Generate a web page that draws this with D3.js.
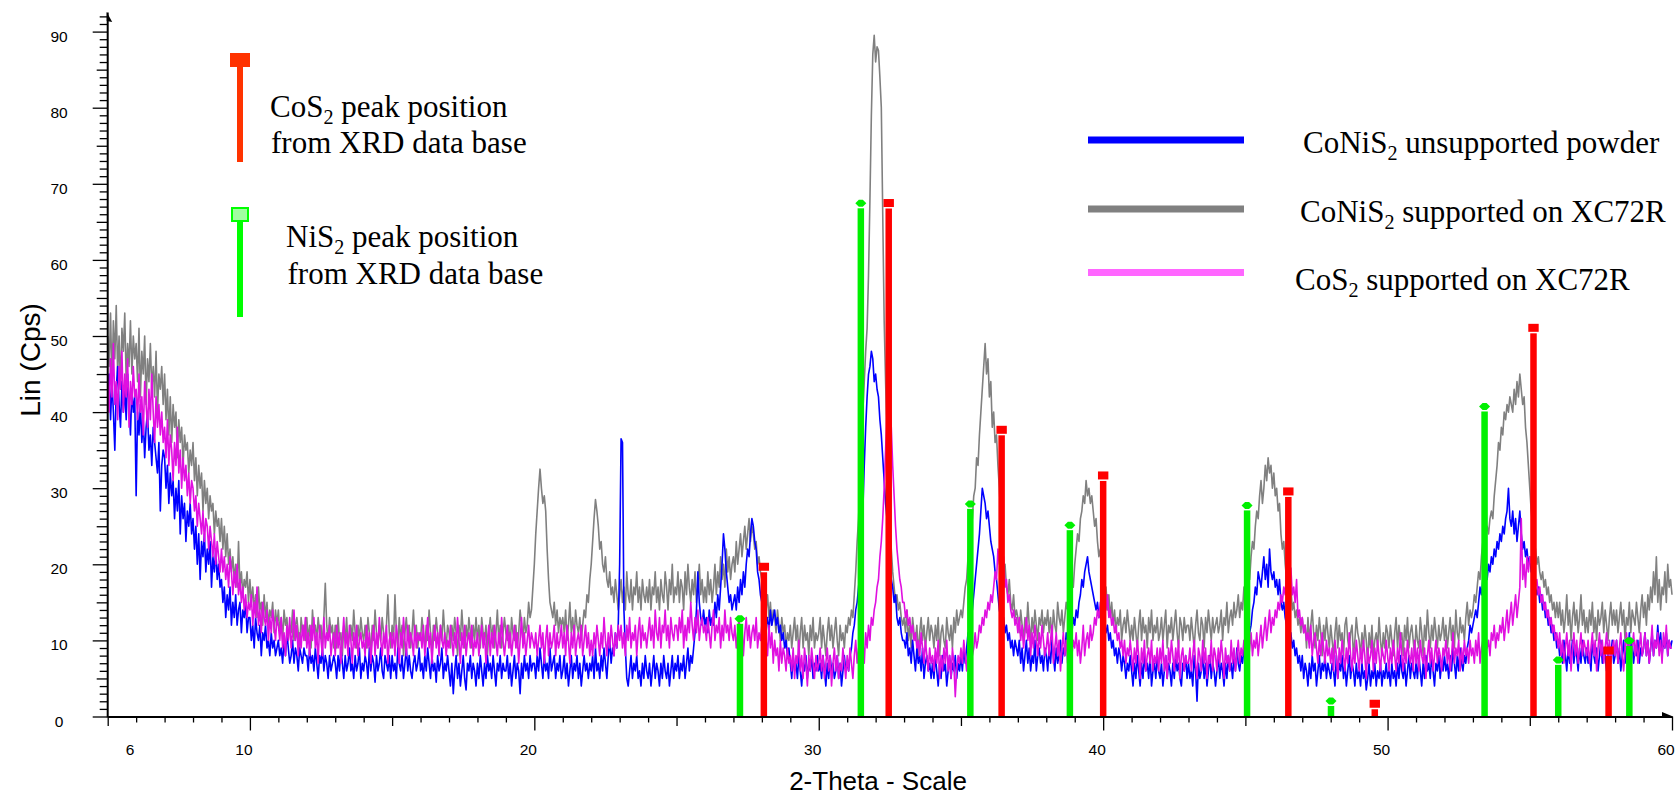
<!DOCTYPE html>
<html>
<head>
<meta charset="utf-8">
<script src="https://cdn.jsdelivr.net/npm/d3@7"></script>
<style>
  html, body { margin: 0; padding: 0; background: #fff; }
  svg { display: block; }
</style>
</head>
<body>
<svg id="chart" width="1680" height="799"></svg>
<script>
// Scan grid: 2-theta from 5.00 to 60.00 deg in 0.05 deg steps (one row per degree)
const twoThetaStart = 5;
const twoThetaStep = 0.05;

// CoNiS2 unsupported powder, Lin (Cps)
const coNiS2Powder = [
  42,45,39,44,40,35,43,46,41,38,44,40,43,39,45,41,37,43,40,42,
  29,40,37,41,36,39,34,38,40,35,37,33,38,36,34,32,36,27,33,35,
  34,30,33,28,32,29,31,26,30,27,31,24,29,26,28,23,27,25,28,24,
  26,22,25,20,24,18,23,21,24,19,22,20,23,17,21,19,22,18,20,17,
  18,15,17,13,16,14,17,12,15,13,16,12,14,15,11,14,13,15,11,13,
  13,10,12,9,13,11,10,12,8,11,10,12,9,10,8,11,9,10,8,9,
  10,8,9,7,10,8,11,9,7,8,10,7,9,8,6,9,8,7,9,8,
  8,6,9,7,8,6,9,7,5,8,7,9,6,8,7,5,8,6,7,8,
  7,5,8,6,9,7,5,8,6,7,9,6,7,5,8,6,7,9,5,7,
  6,8,7,5,9,6,8,7,4.5,8,6,7,9,6,5,8,7,6,8,5,
  8,6,7,5,9,7,6,8,5,7,9,6,8,6,5,7,8,6,7,9,
  6,7,5,8,6,9,7,5,8,6,7,4.5,8,6,7,9,5,7,6,8,
  6,4,7,3,6,8,5,7,4,6,8,5,3.5,7,6,8,5,7,6,4,
  7,5,8,6,4,7,5,8,6,7,5,8,6,4,7,6,8,5,7,6,
  6,8,5,7,4,6,8,5,7,6,3,7,5,8,6,7,5,8,6,7,
  7,5,8,6,9,7,5,8,6,7,5,9,6,7,8,5,7,6,8,5,
  6,8,5,7,4,6,8,5,7,6,8,5,7,4,6,8,6,7,5,7,
  6,8,5,9,6,7,5,8,6,9,7,5,8,10,7,9,8,11,9,12,
  20,36.5,36,14,9,5,4,6,8,5,7,6,8,5,6,4,7,5,8,6,
  5,7,4,6,8,5,7,6,4,7,5,8,6,5,7,4,6,8,5,7,
  6,8,5,7,6,8,5,7,9,6,8,7,9,11,14,19,15,13,12,14,
  12,13,11,14,12,13,12,15,13,16,14,17,20,24,22,19,17,15,16,14,
  15,16,14,17,15,18,16,19,17,20,22,21,24,26,25,23,22,19,18,16,
  15,13,14,12,13,11,14,12,13,14,12,13,11,12,10,11,9,10,8,9,
  7,5,8,6,7,5,8,6,4,7,6,8,5,7,6,8,5,7,6,8,
  6,7,5,8,6,4,7,5,8,6,7,5,6,8,5,7,4,6,8,6,
  7,6,8,9,11,12,14,15,17,19,22,27,33,38,42,45,46,48,47,44,
  45,43,42,39,37,34,31,28,26,23,21,18,17,15,16,13,12,13,11,10,
  10,9,11,8,9,7,10,8,6,9,7,8,6,9,5,7,8,6,7,5,
  7,5,8,6,4,7,5,8,6,7,4,6,8,5,7,6,8,5,7,6,
  8,6,9,7,9,11,10,13,14,16,18,20,22,24,27,30,29,28,26,27,
  25,23,22,21,19,18,16,14,13,12,13,11,12,10,11,9,10,8,10,9,
  8,10,7,9,6,8,10,7,9,6,8,7,10,6,8,9,7,8,6,9,
  8,6,9,7,10,8,6,9,7,8,10,7,9,8,11,9,10,12,11,13,
  12,14,13,15,16,18,17,19,20,21,19,18,17,16,15,14,15,13,14,12,
  13,12,11,12,10,11,9,10,8,9,7,9,8,6,8,7,5,7,6,8,
  6,4,7,5,8,6,4,7,5,8,6,7,5,8,4,6,7,5,8,6,
  5,7,4,6,8,5,7,6,4,7,5,8,6,7,5,4,7,6,8,5,
  7,5,6,4,8,6,2,7,5,6,8,5,7,4,6,8,5,7,6,4,
  6,8,5,7,6,4,7,5,8,6,7,5,8,6,9,7,6,8,7,9,
  9,8,10,11,12,14,15,17,16,19,18,17,19,21,18,20,17,22,19,18,
  19,17,18,16,18,15,14,15,13,12,11,10,11,9,10,8,9,7,8,6,
  8,5,7,6,4,7,5,8,6,7,4,6,8,5,7,6,8,5,7,6,
  5,7,6,4,8,5,7,6,8,5,7,4,6,8,5,7,6,4,7,5,
  6,4,7,5,6,3.5,5,7,4,6,5,7,4,6,5,7,4,6,5,7,
  5,6,4,7,5,6,4,7,5,8,6,5,7,4,6,8,5,7,6,5,
  7,5,8,6,4,7,5,8,6,7,5,8,6,4,7,6,8,5,7,6,
  8,6,7,5,8,6,9,7,5,8,6,9,7,6,8,7,9,10,12,11,
  12,13,14,13,15,17,16,18,17,19,18,20,19,21,20,22,21,23,22,24,
  23,25,24,26,27,30,26,25,27,24,26,23,25,27,24,22,23,21,22,20,
  21,19,20,18,17,16,17,15,16,14,15,13,14,12,13,11,12,10,11,9,
  10,8,9,7,10,8,6,9,7,8,10,7,9,8,6,9,7,10,8,7,
  9,7,8,6,10,8,7,9,6,8,10,7,9,8,6,9,7,8,10,7,
  8,10,7,9,6,8,10,7,9,8,11,8,10,7,9,8,10,7,9,8,
  9,11,8,10,7,9,11,8,10,9,12,9,11,8,10,9,11,8,10,9,
  10
];

// CoNiS2 supported on XC72R, Lin (Cps)
const coNiS2OnCarbon = [
  50,46,53,44,52,47,54,45,50,43,51,48,53,44,49,46,52,45,50,47,
  49,44,51,42,48,45,50,41,47,44,49,43,46,42,48,40,45,43,46,41,
  45,39,43,37,42,36,41,38,40,34,39,36,38,33,37,35,36,32,35,33,
  36,31,34,29,33,30,32,27,31,28,30,26,29,27,28,24,27,25,26,23,
  26,22,25,21,24,20,22,19,21,18,20,17,23,17,19,16,18,17,19,15,
  18,15,17,14,16,13,17,14,15,12,16,13,15,12,14,13,15,11,14,12,
  14,11,13,10,14,12,13,10,12,11,14,10,12,13,11,9,13,11,12,10,
  13,10,12,9,14,11,12,10,13,11,12,9,13,17.5,12,10,13,11,12,9,
  12,9,13,10,11,8,12,10,13,9,11,12,10,14,11,9,12,10,13,11,
  10,12,9,13,11,8,12,10,14,11,9,12,10,13,11,9,12,16,11,9,
  12,10,16,11,9,13,10,12,8,11,13,10,12,9,11,14,10,12,9,11,
  10,13,11,9,12,10,14,11,8,12,10,13,11,9,12,10,14,11,9,12,
  11,9,12,10,13,11,8,12,10,14,11,9,12,10,13,11,9,12,10,13,
  10,12,9,13,11,10,12,8,11,13,10,12,9,11,14,10,12,9,11,13,
  11,10,12,9,13,11,10,12,9,11,14,12,10,13,11,12,15,13,14,17,
  20,24,27,30,32.5,30,28,29,27,22,18,15,14,13,15,12,14,11,13,12,
  13,11,14,10,12,15,11,13,10,14,12,11,13,10,12,14,13,16,15,18,
  20,23,26,28.5,27,25,22,23,20,19,21,18,17,19,16,17,15,18,16,14,
  16,18,15,17,14,19,16,15,18,14,17,16,19,15,17,14,18,16,15,17,
  15,18,14,17,16,19,15,17,14,18,16,15,19,17,14,18,16,20,15,17,
  16,19,15,18,17,14,19,16,20,17,15,18,16,19,15,17,20,16,18,15,
  17,15,19,16,18,15,17,20,16,19,17,21,18,20,17,22,19,21,18,20,
  21,19,23,20,22,24,21,23,25,22,24,26,23,25,24,22,23,20,21,19,
  18,16,17,14,16,13,15,12,14,13,11,14,12,10,13,11,12,9,11,10,
  12,9,11,13,10,12,8,11,13,9,12,10,11,8,12,10,13,9,11,10,
  11,13,9,12,10,8,11,13,10,12,9,11,13,10,8,12,10,11,9,12,
  11,13,12,14,13,16,19,23,26,31,35,40,44,48,51,58,68,79,87,89.5,
  86,88,87.5,84,80,66,52,44,37,28,25,22,19,17,15,16,14,15,13,12,
  13,11,14,10,12,9,13,11,10,12,8,11,13,10,12,9,11,13,10,12,
  11,9,12,10,13,8,11,12,10,9,13,11,10,12,9,13,11,14,12,13,
  14,13,15,17,18,21,24,27,26,29,30,34,33,37,40,43,46,49,45,47,
  42,44,38,40,36,37,33,30,26,22,19,20,17,16,18,15,14,16,13,14,
  13,11,14,12,10,13,11,15,12,10,13,11,14,12,10,13,12,14,11,13,
  12,14,11,13,10,14,12,11,15,13,12,14,11,13,15,14,16,15,18,17,
  20,22,24,23,26,27,29,28,31,29,30,28,29,27,25,26,23,21,22,19,
  18,16,17,14,16,13,15,12,14,11,13,12,14,10,12,13,11,14,12,10,
  12,10,13,11,9,12,14,10,13,11,12,9,13,11,14,10,12,11,13,10,
  11,13,10,12,14,9,12,11,13,10,12,14,11,9,13,12,10,13,11,12,
  12,10,13,11,9,12,14,11,10,13,12,9,13,11,14,12,10,13,11,12,
  13,11,12,14,10,13,12,15,11,13,14,12,15,13,14,16,13,15,14,17,
  15,17,19,18,21,23,22,25,27,26,29,31,28,30,33,31,34,32,33,30,
  32,29,30,27,28,24,22,23,20,18,19,16,17,14,15,13,14,12,13,11,
  13,11,12,9,13,10,12,14,11,9,12,10,13,11,8,12,10,13,11,9,
  12,10,8,11,13,9,12,10,11,8,12,13,10,9,11,12,8,10,13,11,
  10,8,11,9,12,10,7,11,9,12,8,10,11,9,13,10,8,11,9,12,
  11,9,12,10,8,11,13,9,12,10,11,8,12,10,13,9,11,12,10,8,
  12,10,9,13,11,8,12,10,14,11,9,12,10,13,11,9,12,10,11,13,
  10,12,9,11,13,10,12,9,14,11,10,13,11,12,10,13,15,12,14,13,
  14,16,15,17,19,18,21,23,22,24,25,24,26,27,26,29,31,33,36,35,
  38,37,40,39,41,40,42,41,40,43,41,44,42,45,43,41,42,38,36,33,
  30,27,25,23,22,20,21,19,18,19,17,18,16,17,15,16,14,15,13,15,
  13,15,12,14,11,13,16,12,14,10,13,15,12,14,11,13,16,12,14,11,
  13,11,14,12,15,11,13,10,14,12,13,15,11,14,12,10,13,15,12,14,
  12,14,11,13,15,12,14,10,13,12,15,11,14,13,12,15,13,11,14,16,
  13,15,12,16,14,17,15,19,16,21,15,18,14,17,16,19,15,20,17,18,
  16
];

// CoS2 supported on XC72R, Lin (Cps)
const coS2OnCarbon = [
  45,40,47,42,49,41,44,39,46,43,48,40,45,42,47,38,44,41,46,42,
  43,39,45,40,42,37,44,41,38,43,39,45,40,36,42,38,41,37,40,36,
  38,34,39,33,37,35,31,36,33,38,32,35,30,34,31,33,29,32,28,31,
  30,27,29,25,28,26,24,27,23,26,25,22,25,23,21,24,20,23,21,19,
  22,19,21,18,20,17,21,19,16,19,17,20,16,18,15,17,14,16,13,15,
  14,16,12,15,13,17,12,14,11,15,13,12,14,10,13,11,14,12,10,13,
  12,10,13,9,11,8,12,10,13,9,11,14,10,12,8,11,9,12,10,13,
  9,11,8,12,10,13,9,11,7,12,10,8,13,9,11,10,12,8,10,11,
  8,12,9,11,7,10,13,9,11,8,12,10,7,11,9,12,8,10,11,9,
  10,8,12,9,11,7,10,12,8,11,9,13,10,8,11,9,12,7,10,11,
  9,11,8,12,10,7,11,9,13,10,8,12,9,11,10,8,12,9,11,10,
  11,9,12,8,10,13,9,11,7,10,12,9,11,8,12,10,9,11,8,10,
  9,12,10,8,11,9,13,10,7,11,9,12,8,10,11,9,12,8,10,9,
  11,8,10,12,9,11,7,10,12,8,11,9,12,10,8,11,9,13,10,8,
  10,12,9,11,8,10,12,9,11,7,10,13,9,11,8,10,12,9,11,10,
  9,11,8,10,12,9,11,7,10,12,8,11,9,10,12,8,11,9,10,12,
  9,11,8,12,10,7,11,9,12,8,10,11,9,12,8,10,12,9,11,8,
  10,8,11,9,12,10,8,11,9,13,10,8,11,9,12,10,8,11,9,12,
  10,12,9,11,8,12,10,13,9,11,10,12,8,11,13,9,12,10,11,9,
  11,13,10,12,9,14,11,10,13,9,12,11,14,10,12,9,13,11,10,12,
  12,10,13,11,14,9,12,10,13,11,15,12,10,13,11,14,10,12,13,11,
  12,10,13,11,9,12,14,10,12,11,13,9,12,10,14,11,12,10,13,11,
  10,12,9,11,13,10,12,8,11,13,10,12,9,11,12,10,13,9,11,10,
  12,9,11,10,8,12,9,11,7,10,8,9,6,10,7,9,8,6,9,7,
  8,6,9,5,8,7,10,6,8,5,9,7,4,8,6,9,7,5,8,6,
  7,9,6,8,5,7,9,6,8,4,7,9,6,8,5,7,6,9,7,5,
  8,6,9,7,5,8,10,7,9,6,8,10,7,11,9,12,10,13,12,14,
  15,17,18,21,23,26,30,35,40,43,41,38,33,29,25,22,20,18,17,15,
  15,13,14,12,13,11,12,10,11,9,10,8,11,9,7,10,8,6,9,7,
  8,6,9,7,10,5,8,6,9,7,10,6,8,5,9,7,2.6,6,8,7,
  9,7,10,8,6,9,7,10,8,9,11,9,10,12,11,13,12,14,13,15,
  14,16,15,17,19,18,22,20,24,19,21,17,18,15,16,14,13,14,12,13,
  11,13,10,12,9,11,13,10,12,8,11,9,12,10,8,11,9,12,10,8,
  9,11,8,10,12,7,9,11,8,10,6,9,11,8,10,7,9,12,8,10,
  9,11,8,10,7,9,12,8,10,11,9,12,10,11,13,12,14,13,15,14,
  16,15,14,16,13,14,12,13,11,12,10,11,9,10,8,10,7,9,8,10,
  8,6,9,7,10,8,5,9,7,10,6,8,9,7,10,6,8,7,9,6,
  9,7,10,6,8,5,9,7,10,8,6,9,7,10,5,8,9,6,8,7,
  7,9,6,8,10,7,5,9,8,6,10,7,9,5,8,7,10,6,9,8,
  6,9,7,10,8,5,9,7,8,6,10,7,9,6,8,10,7,9,8,10,
  8,10,7,9,11,8,10,9,11,8,10,12,9,11,13,10,12,14,11,13,
  12,14,13,15,14,16,15,17,16,19,18,17,19.5,16,17,15,18,13,14,12,
  13,11,12,10,11,9,12,8,10,11,9,7,10,8,11,9,7,10,8,9,
  7,9,6,10,8,5,9,7,10,8,6,9,7,11,8,6,9,7,10,8,
  6,9,7,10,8,5,9,7,8,10,6,9,7,10,8,6,9,8,7,10,
  8,6,9,7,10,8,6,9,7,11,8,6,9,7,10,8,7,9,6,10,
  7,9,6,10,8,7,9,5,8,10,7,9,6,8,10,7,9,8,6,9,
  8,10,7,9,6,8,11,7,9,8,10,6,9,7,10,8,9,7,10,8,
  9,7,10,8,11,7,9,10,8,11,9,10,8,11,10,12,9,11,10,12,
  11,13,10,12,14,11,13,15,12,14,16,13,15,17,26,18,20,17,21,19,
  21,20,18,19,17,18,16,17,15,16,14,15,13,14,12,13,11,12,10,11,
  9,11,8,10,7,9,11,8,10,6,9,11,8,10,7,9,11,8,10,9,
  8,10,7,9,11,8,10,6,9,11,8,10,7,9,11,8,10,7,9,10,
  8,10,7,9,11,8,6,9,11,8,10,7,9,11,8,10,7,9,11,8,
  9,11,8,10,7,9,12,8,10,9,11,8,10,7,11,9,12,8,10,9,
  9
];

// Reference stick patterns from the XRD database (position deg, intensity Cps)
const cos2RefPos = [28.07, 32.46, 36.43, 40.0, 46.51, 49.55, 55.13, 57.77];
const cos2RefInt = [20.2, 68.0, 38.2, 32.2, 30.1, 2.2, 51.6, 9.2];
const nis2RefPos = [27.23, 31.48, 35.33, 38.83, 45.06, 48.01, 53.41, 56.0, 58.5];
const nis2RefInt = [13.3, 67.9, 28.4, 25.6, 28.2, 2.5, 41.2, 7.9, 10.4];

const xTickLabels = [6, 10, 20, 30, 40, 50, 60];
const yTickLabels = [0, 10, 20, 30, 40, 50, 60, 70, 80, 90];

const svg = d3.select('#chart');
const x = d3.scaleLinear().domain([5, 60]).range([107.7, 1672]);
const y = d3.scaleLinear().domain([0, 90]).range([716.5, 31.6]);

const sansFont = '"Liberation Sans", Arial, sans-serif';
const serifFont = '"Liberation Serif", "Times New Roman", serif';

// ---- diffraction patterns (gray behind, blue, magenta on top)
const line = d3.line()
  .x((d, i) => x(twoThetaStart + i * twoThetaStep))
  .y(d => y(d));

const patterns = [
  { data: coNiS2OnCarbon, color: '#808080' },
  { data: coNiS2Powder, color: '#0000ff' },
  { data: coS2OnCarbon, color: '#e010e0' }
];
svg.append('g').selectAll('path')
  .data(patterns)
  .join('path')
  .attr('d', d => line(d.data))
  .attr('fill', 'none')
  .attr('stroke', d => d.color)
  .attr('stroke-width', 1.6)
  .attr('stroke-linejoin', 'round');

// ---- reference sticks
const barW = 6.5;
const sticks = svg.append('g');
const cosData = cos2RefPos.map((p, i) => ({ p, v: cos2RefInt[i] }));
const nisData = nis2RefPos.map((p, i) => ({ p, v: nis2RefInt[i] }));

sticks.selectAll('rect.cos-bar').data(cosData).join('rect')
  .attr('class', 'cos-bar')
  .attr('x', d => x(d.p) - barW / 2)
  .attr('y', d => y(d.v) + 9.5)
  .attr('width', barW)
  .attr('height', d => Math.max(0, y(0) - y(d.v) - 9.5))
  .attr('fill', '#ff0000');
sticks.selectAll('rect.cos-cap').data(cosData).join('rect')
  .attr('class', 'cos-cap')
  .attr('x', d => x(d.p) - 5.2)
  .attr('y', d => y(d.v))
  .attr('width', 10.4)
  .attr('height', 8)
  .attr('fill', '#ff0000');

sticks.selectAll('rect.nis-bar').data(nisData).join('rect')
  .attr('class', 'nis-bar')
  .attr('x', d => x(d.p) - barW / 2)
  .attr('y', d => y(d.v) + 8.5)
  .attr('width', barW)
  .attr('height', d => Math.max(0, y(0) - y(d.v) - 8.5))
  .attr('fill', '#00f000');
sticks.selectAll('path.nis-cap').data(nisData).join('path')
  .attr('class', 'nis-cap')
  .attr('d', d => {
    const cx = x(d.p), cy = y(d.v) + 3.5;
    return `M${cx - 5.5},${cy} L${cx - 2},${cy - 3.5} L${cx + 2},${cy - 3.5} L${cx + 5.5},${cy} L${cx + 2},${cy + 3.5} L${cx - 2},${cy + 3.5} Z`;
  })
  .attr('fill', '#00f000');

// ---- x axis
const x0 = x(5), yBase = y(0);
const xAxis = d3.axisBottom(x)
  .tickValues(d3.range(5, 61, 1))
  .tickSizeInner(6)
  .tickSizeOuter(0)
  .tickFormat('');
const gx = svg.append('g').attr('transform', `translate(0,${yBase})`).call(xAxis);
gx.select('.domain').attr('stroke', '#000').attr('stroke-width', 2);
gx.selectAll('.tick line')
  .attr('stroke', '#000')
  .attr('stroke-width', 1.3)
  .attr('y2', d => (d % 10 === 0 ? 14 : d % 5 === 0 ? 9.5 : 6));

svg.append('g').selectAll('text')
  .data(xTickLabels)
  .join('text')
  .attr('x', d => x(d) - 6)
  .attr('y', 751)
  .attr('text-anchor', 'middle')
  .attr('dominant-baseline', 'middle')
  .attr('font-family', sansFont)
  .attr('font-size', 15.5)
  .attr('fill', '#000')
  .text(d => d);

// arrow at the right end of the x axis
svg.append('path')
  .attr('d', `M${x(60) - 10},${yBase - 4.5} L${x(60) + 1},${yBase} L${x(60) - 10},${yBase + 1} Z`)
  .attr('fill', '#000');

svg.append('text')
  .attr('x', 878)
  .attr('y', 790)
  .attr('text-anchor', 'middle')
  .attr('font-family', sansFont)
  .attr('font-size', 26)
  .attr('fill', '#000')
  .text('2-Theta - Scale');

// ---- y axis
const yAxis = d3.axisLeft(y)
  .tickValues(d3.range(0, 93, 1))
  .tickSizeInner(8)
  .tickSizeOuter(0)
  .tickFormat('');
const gy = svg.append('g').attr('transform', `translate(${x0},0)`).call(yAxis);
gy.select('.domain').remove();
gy.selectAll('.tick line')
  .attr('stroke', '#000')
  .attr('stroke-width', 1.3)
  .attr('x2', d => (d % 10 === 0 ? -15 : d % 5 === 0 ? -11 : -8));

svg.append('line')
  .attr('x1', x0).attr('x2', x0)
  .attr('y1', yBase + 1).attr('y2', 12.5)
  .attr('stroke', '#000').attr('stroke-width', 2);
svg.append('path')
  .attr('d', `M${x0 - 1},12 L${x0 + 4.5},22 L${x0 - 1},21 Z`)
  .attr('fill', '#000');

svg.append('g').selectAll('text')
  .data(yTickLabels)
  .join('text')
  .attr('x', 59)
  .attr('y', d => y(d) + 6)
  .attr('text-anchor', 'middle')
  .attr('dominant-baseline', 'middle')
  .attr('font-family', sansFont)
  .attr('font-size', 15.5)
  .attr('fill', '#000')
  .text(d => d);

svg.append('text')
  .attr('transform', 'translate(40,360) rotate(-90)')
  .attr('text-anchor', 'middle')
  .attr('font-family', sansFont)
  .attr('font-size', 28)
  .attr('fill', '#000')
  .text('Lin (Cps)');

// ---- legends
function chemText(sel, parts, size) {
  // parts: [text, isSubscript]
  const t = sel.append('text')
    .attr('font-family', serifFont)
    .attr('font-size', size)
    .attr('fill', '#000');
  let shifted = false;
  parts.forEach(([s, sub]) => {
    const ts = t.append('tspan').text(s);
    if (sub && !shifted) { ts.attr('dy', 7).attr('font-size', size * 0.65); shifted = true; }
    else if (!sub && shifted) { ts.attr('dy', -7); shifted = false; }
  });
  return t;
}

const legendSize = 31;

// stick-pattern legend
const stickLegend = svg.append('g');
stickLegend.append('rect').attr('x', 230).attr('y', 53).attr('width', 20).attr('height', 14).attr('fill', '#ff3300');
stickLegend.append('rect').attr('x', 237).attr('y', 67).attr('width', 6).attr('height', 95).attr('fill', '#ff3300');
chemText(stickLegend, [['CoS', false], ['2', true], [' peak position', false]], legendSize)
  .attr('x', 270).attr('y', 117);
chemText(stickLegend, [['from XRD data base', false]], legendSize)
  .attr('x', 271).attr('y', 153);

stickLegend.append('rect').attr('x', 237).attr('y', 221).attr('width', 6).attr('height', 96).attr('fill', '#00ff00');
stickLegend.append('rect').attr('x', 232).attr('y', 208).attr('width', 16).attr('height', 13)
  .attr('fill', '#a0ffa0').attr('stroke', '#00ff00').attr('stroke-width', 2);
chemText(stickLegend, [['NiS', false], ['2', true], [' peak position', false]], legendSize)
  .attr('x', 286).attr('y', 247);
chemText(stickLegend, [['from XRD data base', false]], legendSize)
  .attr('x', 287.5).attr('y', 284);

// pattern legend
const seriesLegend = [
  { color: '#0000ff', cy: 140, tx: 1303, ty: 153, parts: [['CoNiS', false], ['2', true], [' unsupported powder', false]] },
  { color: '#808080', cy: 209, tx: 1300, ty: 221.5, parts: [['CoNiS', false], ['2', true], [' supported on XC72R', false]] },
  { color: '#ff66ff', cy: 272.5, tx: 1295, ty: 290, parts: [['CoS', false], ['2', true], [' supported on XC72R', false]] }
];
const sl = svg.append('g');
seriesLegend.forEach(d => {
  sl.append('rect').attr('x', 1088).attr('y', d.cy - 3.5).attr('width', 156).attr('height', 7).attr('fill', d.color);
  chemText(sl, d.parts, legendSize).attr('x', d.tx).attr('y', d.ty);
});
</script>
</body>
</html>
